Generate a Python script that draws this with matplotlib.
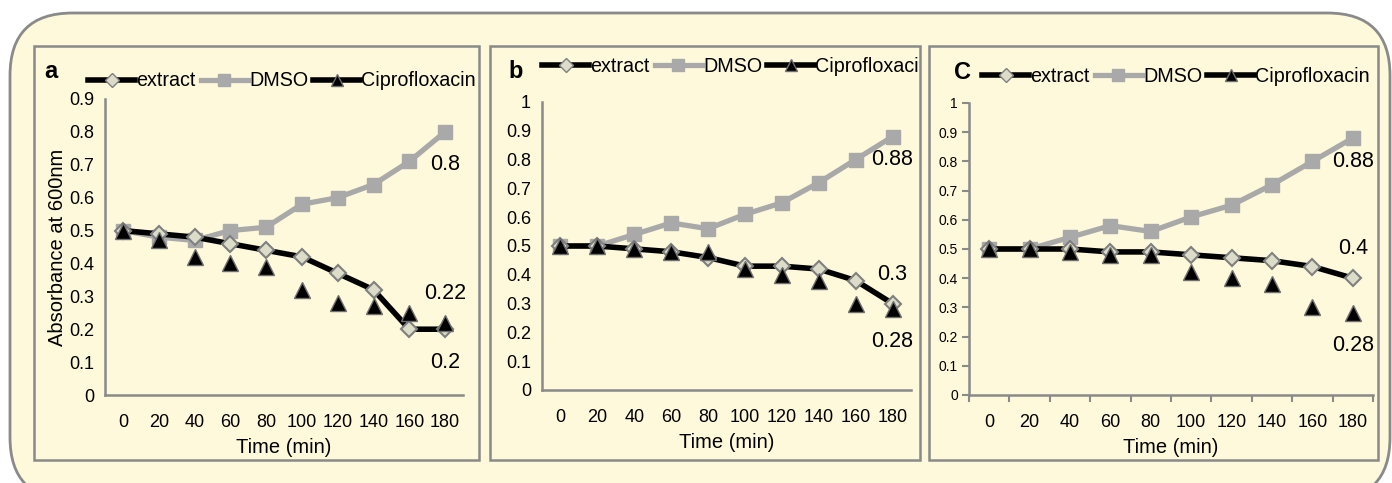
import numpy as np
import matplotlib.pyplot as plt
from matplotlib.patches import FancyBboxPatch, Rectangle
from matplotlib.lines import Line2D

plt.rcParams['font.family'] = ['Liberation Sans', 'DejaVu Sans']

times = [0, 20, 40, 60, 80, 100, 120, 140, 160, 180]

extract_a = [0.5, 0.49, 0.48, 0.46, 0.44, 0.42, 0.37, 0.32, 0.2, 0.2]
dmso_a = [0.5, 0.48, 0.47, 0.5, 0.51, 0.58, 0.6, 0.64, 0.71, 0.8]
cipro_a = [0.5, 0.47, 0.42, 0.4, 0.39, 0.32, 0.28, 0.27, 0.25, 0.22]

extract_b = [0.5, 0.5, 0.49, 0.48, 0.46, 0.43, 0.43, 0.42, 0.38, 0.3]
dmso_b = [0.5, 0.5, 0.54, 0.58, 0.56, 0.61, 0.65, 0.72, 0.8, 0.88]
cipro_b = [0.5, 0.5, 0.49, 0.48, 0.48, 0.42, 0.4, 0.38, 0.3, 0.28]

extract_c = [0.5, 0.5, 0.5, 0.49, 0.49, 0.48, 0.47, 0.46, 0.44, 0.4]
dmso_c = [0.5, 0.5, 0.54, 0.58, 0.56, 0.61, 0.65, 0.72, 0.8, 0.88]
cipro_c = [0.5, 0.5, 0.49, 0.48, 0.48, 0.42, 0.4, 0.38, 0.3, 0.28]

labels_a = ["0.8", "0.22", "0.2"]
labels_b = ["0.88", "0.3", "0.28"]
labels_c = ["0.88", "0.4", "0.28"]

W, H = 1392, 483
bg = '#fef9da'
edge = '#8a8a8a'
gray_line = '#a9a9a9'

fig = plt.figure(figsize=(W/100, H/100), dpi=100)
fig.patch.set_facecolor('white')

def fx(px):
    return px / W

def fy(py):
    return 1 - py / H

# outer rounded box
outer = FancyBboxPatch((fx(10), fy(500)), fx(1380), fy(13) - fy(500),
                       boxstyle="round,pad=0,rounding_size=0.045",
                       transform=fig.transFigure, facecolor=bg, edgecolor=edge,
                       linewidth=2, mutation_aspect=W/H, zorder=-20)
fig.patches.append(outer)

panels = [(34, 46, 479, 460), (490, 46, 920, 460), (929, 46, 1378, 460)]
rects = []
for (x0, y0, x1, y1) in panels:
    r = Rectangle((fx(x0), fy(y1)), fx(x1 - x0), fy(y0) - fy(y1),
                  transform=fig.transFigure, facecolor=bg, edgecolor=edge,
                  linewidth=1.8, zorder=-10)
    fig.patches.append(r)
    rects.append(r)

axes_px = [(105, 99, 463, 395, 0.9), (542, 102, 911, 390, 1.0), (969, 103, 1373, 395, 1.0)]
data = [(extract_a, dmso_a, cipro_a, labels_a),
        (extract_b, dmso_b, cipro_b, labels_b),
        (extract_c, dmso_c, cipro_c, labels_c)]
letters = ["a", "b", "C"]
letter_pos = [(44, 71), (508, 71), (954, 72)]
legend_pos = [(88, 81), (542, 66), (982, 76)]

x = np.arange(len(times))

for i in range(3):
    x0, y0, x1, y1, ymax = axes_px[i]
    ax = fig.add_axes([fx(x0), fy(y1), fx(x1 - x0), fy(y0) - fy(y1)])
    ax.patch.set_visible(False)
    ext, dm, ci, labs = data[i]

    ax.plot(x, dm, color=gray_line, lw=3.8, marker='s', markersize=10,
            markerfacecolor=gray_line, markeredgecolor=gray_line, zorder=2, clip_on=False)
    ax.plot(x, ext, color='black', lw=4, marker='D', markersize=8.5,
            markerfacecolor='#dcdcc8', markeredgecolor='#7f7f7f', markeredgewidth=1.5,
            zorder=3, clip_on=False)
    ax.plot(x, ci, linestyle='none', marker='^', markersize=11,
            markerfacecolor='black', markeredgecolor='#6f6f6f', markeredgewidth=1,
            zorder=4, clip_on=False)

    ax.set_xlim(-0.5, 9.5)
    ax.set_ylim(0, ymax)
    ax.set_xticks(x)
    ax.set_xticklabels([str(t) for t in times], fontsize=13)
    if ymax == 0.9:
        yt = np.round(np.arange(0, 0.91, 0.1), 1)
    else:
        yt = np.round(np.arange(0, 1.01, 0.1), 1)
    ax.set_yticks(yt)
    ax.set_yticklabels(['0' if v == 0 else ('1' if v == 1 else f'{v:g}') for v in yt],
                       fontsize=13 if i < 2 else 10)
    for s in ['top', 'right']:
        ax.spines[s].set_visible(False)
    for s in ['left', 'bottom']:
        ax.spines[s].set_color(edge)
        ax.spines[s].set_linewidth(1.8)
    if i < 2:
        ax.tick_params(length=0, pad=8)
        ax.tick_params(axis='x', pad=14)
    else:
        ax.tick_params(axis='y', length=5, color=edge, width=1.5, pad=3)
        ax.tick_params(axis='x', length=0, pad=14)
        ax.set_xticks(np.arange(-0.5, 10, 1), minor=True)
        ax.tick_params(axis='x', which='minor', length=5, color=edge, width=1.5)
    ax.set_xlabel("Time (min)", fontsize=14.5, labelpad=5)
    if i == 0:
        ax.set_ylabel("Absorbance at 600nm", fontsize=14.5, labelpad=1)

    # value labels at the end of the series
    if i == 0:
        ax.text(9, dm[-1] - 0.1, labs[0], fontsize=15.5, ha='center', va='center')
        ax.text(9, ci[-1] + 0.09, labs[1], fontsize=15.5, ha='center', va='center')
        ax.text(9, ext[-1] - 0.1, labs[2], fontsize=15.5, ha='center', va='center')
    elif i == 1:
        ax.text(9, dm[-1] - 0.08, labs[0], fontsize=15.5, ha='center', va='center')
        ax.text(9, ext[-1] + 0.1, labs[1], fontsize=15.5, ha='center', va='center')
        ax.text(9, ci[-1] - 0.11, labs[2], fontsize=15.5, ha='center', va='center')
    else:
        ax.text(9, dm[-1] - 0.08, labs[0], fontsize=15.5, ha='center', va='center')
        ax.text(9, ext[-1] + 0.1, labs[1], fontsize=15.5, ha='center', va='center')
        ax.text(9, ci[-1] - 0.11, labs[2], fontsize=15.5, ha='center', va='center')

    fig.text(fx(letter_pos[i][0]), fy(letter_pos[i][1]), letters[i], fontsize=17,
             fontweight='bold', ha='left', va='center')

    handles = [
        Line2D([], [], color='black', lw=4, marker='D', markersize=7,
               markerfacecolor='#dcdcc8', markeredgecolor='#7f7f7f'),
        Line2D([], [], color=gray_line, lw=3.8, marker='s', markersize=8,
               markerfacecolor=gray_line, markeredgecolor=gray_line),
        Line2D([], [], color='black', lw=4, marker='^', markersize=8,
               markerfacecolor='black', markeredgecolor='#6f6f6f'),
    ]
    leg = fig.legend(handles, ["extract", "DMSO", "Ciprofloxacin"], ncol=3,
                     loc='center left', bbox_to_anchor=(fx(legend_pos[i][0]), fy(legend_pos[i][1])),
                     frameon=False, fontsize=14.2, handlelength=2.4, handletextpad=0.05,
                     columnspacing=0.25, borderpad=0, borderaxespad=0)
    for t in leg.get_texts():
        t.set_clip_path(rects[i])
    for h in leg.legend_handles:
        h.set_clip_path(rects[i])

fig.savefig("out.png", dpi=100, facecolor='white')
